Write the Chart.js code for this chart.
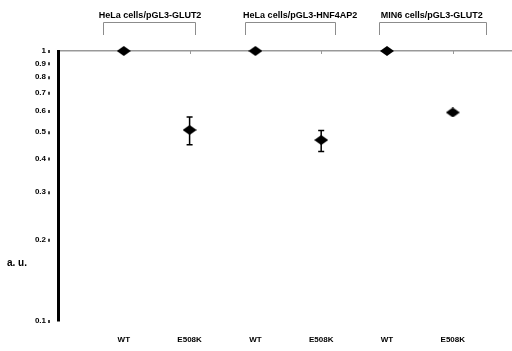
<!DOCTYPE html>
<html><head><meta charset="utf-8">
<script src="https://cdn.jsdelivr.net/npm/chart.js@4"></script>
<style>html,body{margin:0;padding:0;background:#fff}#wrap{width:512px;height:351px;position:relative}</style>
</head><body><div id="wrap"><canvas id="c" width="512" height="351"></canvas></div>
<script>
// ---- data ----
const categories = ['WT','E508K','WT','E508K','WT','E508K'];
const categoryX = [1,2,3,4,5,6];
const relativeActivity = [1, 0.51, 1, 0.468, 1, 0.592];
const errorUp = [0, 0.06, 0, 0.04, 0, 0.008];
const errorDown = [0, 0.06, 0, 0.044, 0, 0.008];
const yTickValues = [0.1,0.2,0.3,0.4,0.5,0.6,0.7,0.8,0.9,1];
const groupTitles = ['HeLa cells/pGL3-GLUT2','HeLa cells/pGL3-HNF4AP2','MIN6 cells/pGL3-GLUT2'];
const groupStart = [0.68, 2.84, 4.88];
const groupEnd = [2.08, 4.21, 6.50];
const groupTitleCenter = [1.40, 3.68, 5.68];
const yAxisLabel = 'a. u.';

// diamond point style
const dia = document.createElement('canvas');
dia.width = 14; dia.height = 10;
{ const g = dia.getContext('2d'); g.fillStyle = '#000'; g.beginPath();
  g.moveTo(7,0); g.lineTo(14,5); g.lineTo(7,10); g.lineTo(0,5); g.closePath(); g.fill(); }

const FONT = "'Liberation Sans', Arial, sans-serif";

const extras = {
  id: 'extras',
  beforeDatasetsDraw(chart) {
    const ctx = chart.ctx, xs = chart.scales.x, ys = chart.scales.y;
    const y1 = ys.getPixelForValue(1);
    ctx.save();
    ctx.strokeStyle = '#999'; ctx.lineWidth = 1;
    categoryX.forEach(v => { const px = Math.round(xs.getPixelForValue(v)) + 0.5;
      ctx.beginPath(); ctx.moveTo(px, y1); ctx.lineTo(px, y1 + 3); ctx.stroke(); });
    ctx.strokeStyle = '#000'; ctx.lineWidth = 1.5;
    yTickValues.forEach(v => { const py = ys.getPixelForValue(v);
      ctx.beginPath(); ctx.moveTo(49, py - 1); ctx.lineTo(49, py + 2); ctx.stroke(); });
    ctx.restore();
  },
  afterDatasetsDraw(chart) {
    const ctx = chart.ctx, xs = chart.scales.x, ys = chart.scales.y;
    ctx.save();
    ctx.strokeStyle = '#000'; ctx.lineWidth = 1.5;
    relativeActivity.forEach((m, i) => {
      if (!errorUp[i] && !errorDown[i]) return;
      const px = xs.getPixelForValue(categoryX[i]);
      const top = ys.getPixelForValue(m + errorUp[i]);
      const bot = ys.getPixelForValue(m - errorDown[i]);
      ctx.beginPath();
      ctx.moveTo(px, top); ctx.lineTo(px, bot);
      ctx.moveTo(px - 3, top); ctx.lineTo(px + 3, top);
      ctx.moveTo(px - 3, bot); ctx.lineTo(px + 3, bot);
      ctx.stroke();
    });
    ctx.strokeStyle = '#8c8c8c'; ctx.lineWidth = 1;
    ctx.fillStyle = '#000'; ctx.font = 'bold 9px ' + FONT;
    ctx.textAlign = 'center'; ctx.textBaseline = 'middle';
    groupTitles.forEach((t, i) => {
      const a = Math.round(xs.getPixelForValue(groupStart[i])) + 0.5;
      const b = Math.round(xs.getPixelForValue(groupEnd[i])) + 0.5;
      ctx.beginPath();
      ctx.moveTo(a, 35); ctx.lineTo(a, 22.5); ctx.lineTo(b, 22.5); ctx.lineTo(b, 35);
      ctx.stroke();
      ctx.fillText(t, xs.getPixelForValue(groupTitleCenter[i]), 16);
    });
    ctx.font = 'bold 10px ' + FONT; ctx.textAlign = 'left';
    ctx.fillText(yAxisLabel, 7, 263);
    ctx.restore();
  }
};

new Chart(document.getElementById('c'), {
  type: 'scatter',
  data: { datasets: [{
    data: categoryX.map((x, i) => ({ x, y: relativeActivity[i] })),
    pointStyle: dia, radius: 7, hoverRadius: 7, clip: false,
    backgroundColor: '#000', borderColor: '#000'
  }]},
  options: {
    responsive: false, animation: false,
    layout: { autoPadding: false, padding: { top: 51, right: 0, left: 0, bottom: 0 } },
    plugins: { legend: { display: false }, tooltip: { enabled: false } },
    scales: {
      x: {
        type: 'linear', min: 0, max: 6.9, position: 'bottom',
        afterBuildTicks: s => { s.ticks = categoryX.map(v => ({ value: v })); },
        afterFit: s => { s.height = 30; },
        ticks: { callback: (v) => categories[categoryX.indexOf(v)] || '', color: '#000',
          font: { family: FONT, size: 8, weight: 'bold' }, padding: 14, maxRotation: 0, autoSkip: false },
        grid: { display: false, drawTicks: false },
        border: { display: false }
      },
      y: {
        type: 'logarithmic', min: 0.1, max: 1,
        afterBuildTicks: s => { s.ticks = yTickValues.map(v => ({ value: v })); },
        afterFit: s => { s.width = 58; },
        ticks: { callback: v => String(v), color: '#000', padding: 12,
          font: { family: FONT, size: 8, weight: 'bold' }, autoSkip: false },
        grid: { color: c => (c.tick && c.tick.value === 1) ? '#999' : 'rgba(0,0,0,0)',
          lineWidth: 1.5, drawTicks: false },
        border: { display: true, color: '#000', width: 3 }
      }
    }
  },
  plugins: [extras]
});
</script></body></html>
